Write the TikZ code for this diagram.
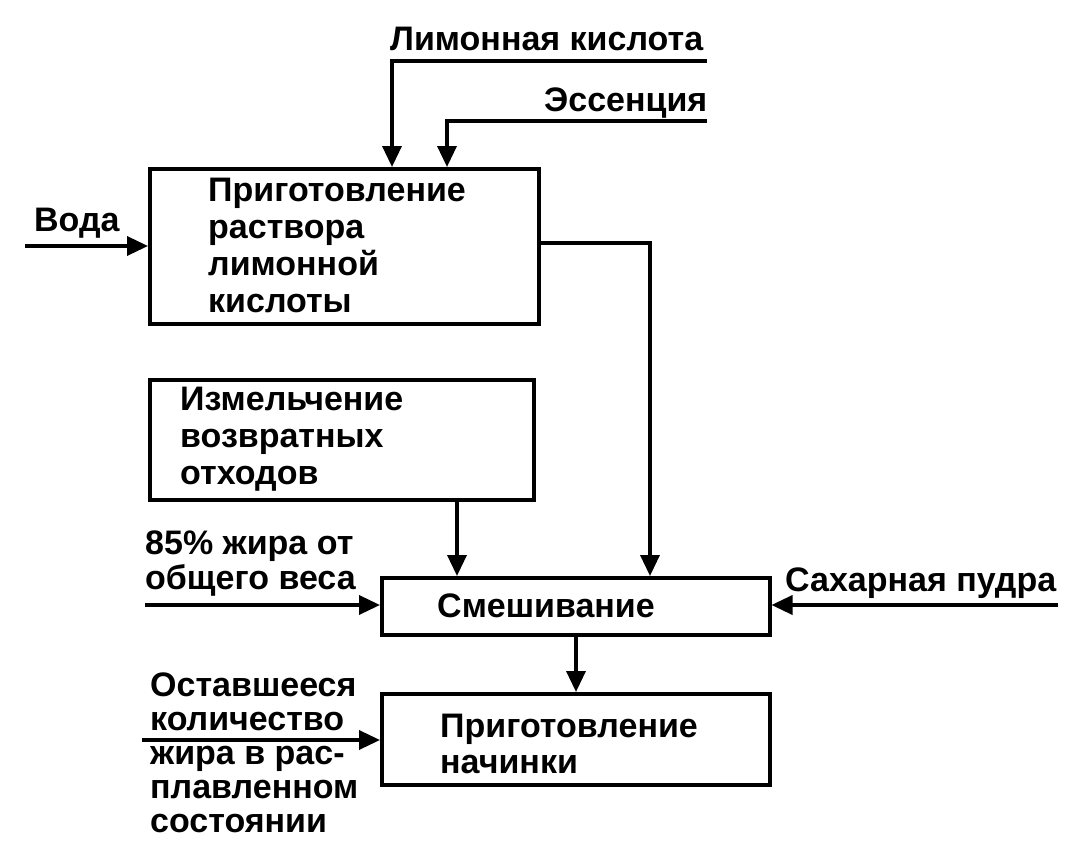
\documentclass[tikz,border=0pt]{standalone}
\usepackage{fontspec}
\setmainfont{Liberation Sans}
\usetikzlibrary{arrows.meta}
\begin{document}
\begin{tikzpicture}[x=1pt,y=-1pt,
  box/.style={draw,line width=3.5pt,inner sep=0pt},
  lbl/.style={inner sep=0pt,anchor=base west,align=left,font=\bfseries\fontsize{34}{37}\selectfont},
  flow/.style={line width=3.5pt,-{Triangle[length=21pt,width=19pt]}}]
\useasboundingbox (0,0) rectangle (1088,867);
% boxes
\node[box,minimum width=389pt,minimum height=155pt,anchor=north west] (b1) at (148,167) {};
\node[box,minimum width=384pt,minimum height=120pt,anchor=north west] (b2) at (148,378) {};
\node[box,minimum width=388pt,minimum height=57pt,anchor=north west] (b3) at (380,576) {};
\node[box,minimum width=388pt,minimum height=91pt,anchor=north west] (b4) at (380,692) {};
% box texts (anchor = baseline of last line)
\node[lbl] (t1) at (208,312) {Приготовление\\раствора\\лимонной\\кислоты};
\node[lbl] (t2) at (180,484) {Измельчение\\возвратных\\отходов};
\node[lbl] (t3) at (437,617) {Смешивание};
\node[lbl,font=\bfseries\fontsize{34}{36}\selectfont] (t4) at (440,773) {Приготовление\\начинки};
% input labels
\node[lbl] (lk) at (390,51) {Лимонная кислота};
\node[lbl] (es) at (544,111) {Эссенция};
\node[lbl] (vo) at (34,231) {Вода};
\node[lbl,font=\bfseries\fontsize{34}{35}\selectfont] (zh) at (145,589) {85\% жира от\\общего веса};
\node[lbl] (sp) at (785,591) {Сахарная пудра};
\node[lbl,font=\bfseries\fontsize{34}{33.8}\selectfont] (os) at (150,832) {Оставшееся\\количество\\жира в рас-\\плавленном\\состоянии};
% coordinates for free ends
\coordinate (lkE) at (707,61);
\coordinate (esE) at (707,121);
\coordinate (voS) at (25,246);
\coordinate (zhS) at (145,605);
\coordinate (spS) at (1058,605);
\coordinate (osS) at (142,740);
% connectors
\draw[flow] (lkE) -- (392,61) -- (b1.north west -| 392,0);
\draw[flow] (esE) -- (447,121) -- (b1.north west -| 447,0);
\draw[flow] (voS) -- (voS -| b1.west);
\draw[flow] (b1.east |- 0,243) -- (650,243) -- (b3.north -| 650,0);
\draw[flow] (b2.south -| 457,0) -- (b3.north -| 457,0);
\draw[flow] (zhS) -- (zhS -| b3.west);
\draw[flow] (spS) -- (spS -| b3.east);
\draw[flow] (b3.south -| 576,0) -- (b4.north -| 576,0);
\draw[flow] (osS) -- (osS -| b4.west);
\end{tikzpicture}
\end{document}
